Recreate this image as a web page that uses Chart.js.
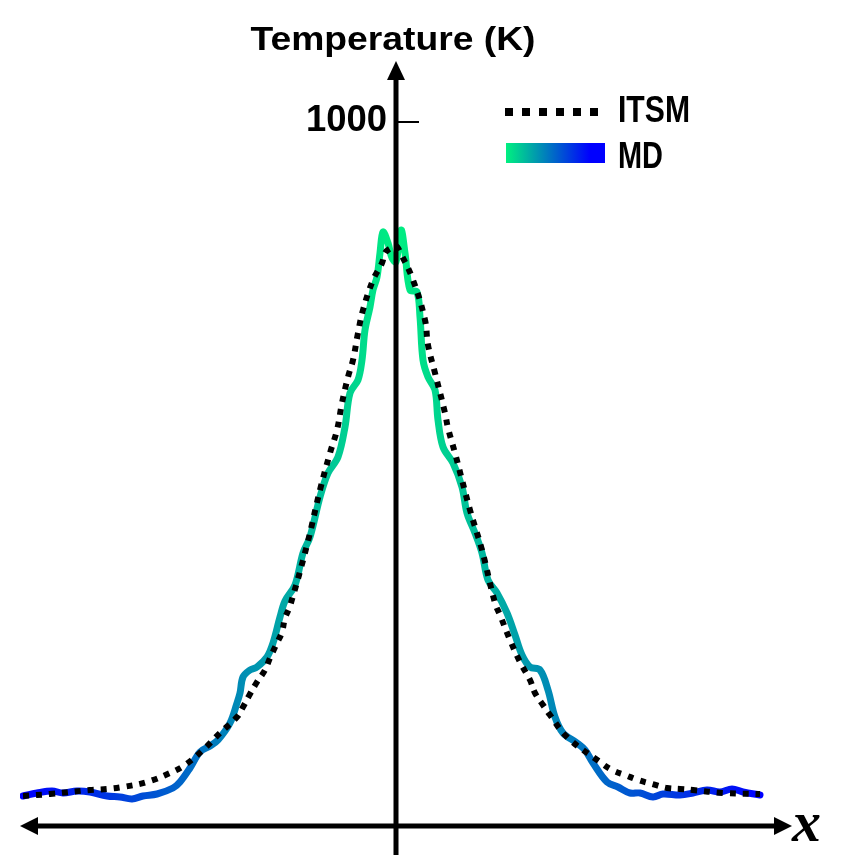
<!DOCTYPE html>
<html>
<head>
<meta charset="utf-8">
<script src="https://cdn.jsdelivr.net/npm/chart.js@4/dist/chart.umd.min.js"></script>
<style>
  html, body { margin: 0; padding: 0; background: #ffffff; }
  #wrap { width: 842px; height: 855px; position: relative; }
</style>
</head>
<body>
<div id="wrap"><canvas id="c" width="842" height="855"></canvas></div>
<script>
// Position along x (arbitrary units, 0 = centre)
const mdX = [-37.3,-35.9,-34.4,-33.3,-31.9,-30.6,-28.9,-27.6,-26.4,-25.3,-23.9,-22.3,-21.6,-20.6,-19.6,-18.6,-17.8,-16.6,-15.9,-15.6,-15.3,-14.6,-13.9,-12.9,-12.3,-11.6,-11.1,-10.1,-9.3,-8.6,-7.6,-6.8,-5.8,-5.1,-4.6,-3.8,-3.4,-3.1,-2.6,-2.3,-1.9,-1.6,-1.3,-0.8,-0.4,0,0.5,0.9,1.4,2.1,2.4,2.7,3.2,3.9,4.2,4.7,5.7,6.6,7.1,7.9,8.6,9.2,10.1,11.1,11.9,12.6,13.4,14.4,15.2,15.9,16.7,18.1,18.9,19.7,21.1,22.2,23.4,24.4,25.7,26.7,28.4,29.7,31.1,32.4,33.6,34.7,36.4];
// MD temperature (K)
const mdT = [326,329,331,329,331,330,326,325,323,326,328,334,340,354,370,376,382,399,419,429,445,452,455,465,479,505,521,537,569,585,625,649,665,695,729,742,762,792,815,832,845,869,890,879,864,860,892,869,832,830,805,762,745,732,702,675,659,635,609,589,569,542,529,509,487,467,455,452,432,405,389,379,372,359,340,335,329,329,325,328,327,329,332,330,333,330,327];

const itsmX = [-37.3,-34.6,-30.6,-28.9,-27.3,-24.9,-22.6,-21.1,-19.3,-17.6,-15.9,-15.3,-14.6,-13.9,-13.1,-12.6,-11.9,-11.4,-11.1,-10.6,-8.9,-7.6,-6.6,-5.9,-5.4,-4.8,-4.3,-3.8,-3.3,-2.3,-1.4,-1.1,-0.5,0,0.4,1.7,2.9,3.2,3.9,4.9,5.2,5.9,7.4,8.6,9.9,10.4,11.4,12.4,13.4,13.9,14.7,15.4,17.1,20.4,21.6,22.9,24.2,25.6,27.1,28.4,29.7,32.7,36.4];
// ITSM temperature (K)
const itsmT = [326,328,332,333,335,340,349,357,372,389,405,415,428,440,452,464,479,490,504,516,577,632,669,692,719,745,762,789,812,842,859,869,874,876,870,842,802,777,749,709,694,669,612,572,519,507,482,460,442,429,417,407,385,360,352,347,342,338,334,333,332,329,328];

const yTicks = [1000];
const seriesNames = ['ITSM', 'MD'];
const axisTitle = 'Temperature (K)';
const xAxisLabel = 'x';

const X_MIN = -37.6, X_MAX = 39.4, Y_MIN = 297, Y_MAX = 1060;
const GREEN = '#00f080', BLUE = '#0000ff';
const FONT = "'Liberation Sans', Arial, Helvetica, sans-serif";

function mdGradient(ctx) {
  const chart = ctx.chart;
  const ca = chart.chartArea;
  if (!ca) return GREEN;
  const xs = chart.scales.x;
  const l = xs.getPixelForValue(mdX[0]);
  const r = xs.getPixelForValue(mdX[mdX.length - 1]);
  const c = xs.getPixelForValue(0);
  const g = chart.ctx.createLinearGradient(l, 0, r, 0);
  g.addColorStop(0, BLUE);
  g.addColorStop((c - l) / (r - l), GREEN);
  g.addColorStop(1, BLUE);
  return g;
}

function fitText(ctx, text, x, y, font, targetW, align, baseline) {
  ctx.save();
  ctx.font = font;
  const w = ctx.measureText(text).width;
  ctx.translate(x, y);
  ctx.scale(targetW / w, 1);
  ctx.textAlign = align || 'left';
  ctx.textBaseline = baseline || 'middle';
  ctx.fillText(text, 0, 0);
  ctx.restore();
}

const decor = {
  id: 'decor',
  afterDraw(chart) {
    const ctx = chart.ctx;
    const xs = chart.scales.x, ys = chart.scales.y;
    const x0 = xs.getPixelForValue(0);
    const yb = ys.getPixelForValue(Y_MIN) + 1;
    const left = xs.getPixelForValue(X_MIN);
    const right = xs.getPixelForValue(X_MAX) + 2;
    ctx.save();
    ctx.fillStyle = '#000';
    ctx.strokeStyle = '#000';
    // horizontal axis with arrows both ends
    ctx.lineWidth = 5;
    ctx.beginPath();
    ctx.moveTo(left + 14, yb); ctx.lineTo(right - 14, yb); ctx.stroke();
    ctx.beginPath();
    ctx.moveTo(left, yb); ctx.lineTo(left + 18, yb - 9); ctx.lineTo(left + 18, yb + 9); ctx.closePath(); ctx.fill();
    ctx.beginPath();
    ctx.moveTo(right, yb); ctx.lineTo(right - 18, yb - 9); ctx.lineTo(right - 18, yb + 9); ctx.closePath(); ctx.fill();
    // vertical axis
    const top = ys.getPixelForValue(Y_MAX) - 1;
    ctx.beginPath();
    ctx.moveTo(x0, chart.height); ctx.lineTo(x0, top + 14); ctx.stroke();
    ctx.beginPath();
    ctx.moveTo(x0, top); ctx.lineTo(x0 - 9, top + 19); ctx.lineTo(x0 + 9, top + 19); ctx.closePath(); ctx.fill();
    // ticks
    ctx.lineWidth = 2;
    yTicks.forEach(t => {
      const py = ys.getPixelForValue(t);
      ctx.beginPath(); ctx.moveTo(x0 + 2, py); ctx.lineTo(x0 + 23, py); ctx.stroke();
      fitText(ctx, String(t), x0 - 9, py - 1, 'bold 37px ' + FONT, 81, 'right', 'middle');
    });
    // title
    fitText(ctx, axisTitle, x0 - 3, 50, 'bold 34px ' + FONT, 285, 'center', 'alphabetic');
    // x label
    ctx.font = "bold italic 58px 'Liberation Serif', 'Times New Roman', serif";
    ctx.textAlign = 'left';
    ctx.textBaseline = 'alphabetic';
    ctx.fillText(xAxisLabel, right, yb + 15);
    // legend
    ctx.lineWidth = 8;
    ctx.setLineDash([8, 9]);
    ctx.beginPath(); ctx.moveTo(505, 112); ctx.lineTo(600, 112); ctx.stroke();
    ctx.setLineDash([]);
    const lg = ctx.createLinearGradient(506, 0, 605, 0);
    lg.addColorStop(0, GREEN);
    lg.addColorStop(0.85, BLUE);
    lg.addColorStop(1, BLUE);
    ctx.fillStyle = lg;
    ctx.fillRect(506, 143, 99, 20);
    ctx.fillStyle = '#000';
    fitText(ctx, seriesNames[0], 618, 112, 'bold 37px ' + FONT, 72);
    fitText(ctx, seriesNames[1], 618, 158, 'bold 37px ' + FONT, 45);
    ctx.restore();
  }
};

new Chart(document.getElementById('c'), {
  type: 'line',
  data: {
    datasets: [
      {
        label: seriesNames[0],
        data: itsmX.map((x, i) => ({ x: x, y: itsmT[i] })),
        borderColor: '#000000',
        borderWidth: 6,
        borderDash: [6, 7],
        borderCapStyle: 'butt',
        pointRadius: 0,
        tension: 0.4,
        fill: false,
        order: 0
      },
      {
        label: seriesNames[1],
        data: mdX.map((x, i) => ({ x: x, y: mdT[i] })),
        borderColor: mdGradient,
        borderWidth: 7,
        pointRadius: 0,
        tension: 0.35,
        borderJoinStyle: 'round',
        borderCapStyle: 'round',
        fill: false,
        order: 1
      }
    ]
  },
  options: {
    responsive: false,
    animation: false,
    layout: { padding: { left: 20, right: 52, top: 62, bottom: 30 } },
    plugins: { legend: { display: false }, tooltip: { enabled: false }, title: { display: false } },
    scales: {
      x: { type: 'linear', min: X_MIN, max: X_MAX, display: false },
      y: { type: 'linear', min: Y_MIN, max: Y_MAX, display: false }
    }
  },
  plugins: [decor]
});
</script>
</body>
</html>
